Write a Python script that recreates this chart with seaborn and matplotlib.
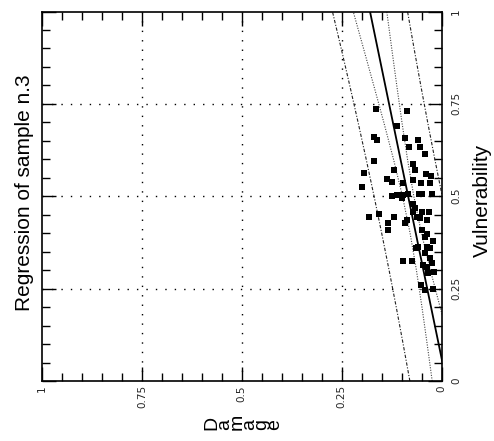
import numpy as np
import pandas as pd
import matplotlib
matplotlib.use("Agg")
import matplotlib.pyplot as plt
from matplotlib.ticker import MultipleLocator
import seaborn as sns

# ---------------- data ----------------
damage = [
    0.165, 0.087, 0.112, 0.168, 0.161, 0.091, 0.060, 0.081, 0.054, 0.041,
    0.169, 0.072, 0.193, 0.118, 0.066, 0.039, 0.026, 0.137, 0.125, 0.096,
    0.071, 0.051, 0.029, 0.200, 0.125, 0.112, 0.096, 0.083, 0.056, 0.048,
    0.025, 0.098, 0.071, 0.066, 0.048, 0.031, 0.071, 0.181, 0.156, 0.118,
    0.062, 0.054, 0.087, 0.091, 0.133, 0.037, 0.133, 0.048, 0.037, 0.041,
    0.021, 0.065, 0.058, 0.037, 0.029, 0.041, 0.096, 0.075, 0.029, 0.046,
    0.025, 0.037, 0.018, 0.033, 0.051, 0.021, 0.041]
vulnerability = [
    0.737, 0.730, 0.689, 0.659, 0.651, 0.658, 0.651, 0.633, 0.633, 0.615,
    0.595, 0.586, 0.563, 0.570, 0.570, 0.561, 0.554, 0.548, 0.539, 0.537,
    0.543, 0.537, 0.537, 0.524, 0.500, 0.503, 0.503, 0.507, 0.507, 0.505,
    0.505, 0.494, 0.478, 0.467, 0.458, 0.458, 0.458, 0.444, 0.451, 0.444,
    0.444, 0.440, 0.435, 0.428, 0.428, 0.435, 0.408, 0.410, 0.399, 0.390,
    0.378, 0.359, 0.363, 0.363, 0.359, 0.347, 0.324, 0.324, 0.332, 0.314,
    0.318, 0.309, 0.294, 0.291, 0.259, 0.249, 0.246]

# regression line and bands, sampled along vulnerability
v_grid = [0.0, 0.1, 0.2, 0.3, 0.4, 0.5, 0.6, 0.7, 0.8, 0.9, 1.0]
reg_line = [-0.012, 0.0071, 0.0262, 0.0453, 0.0644, 0.0835, 0.1026, 0.1217, 0.1408, 0.1599, 0.179]
inner_upper = [0.0233, 0.0359, 0.0489, 0.0628, 0.0786, 0.0977, 0.1201, 0.1444, 0.1696, 0.1952, 0.2210]
inner_lower = [-0.0473, -0.0217, 0.0035, 0.0278, 0.0502, 0.0693, 0.0851, 0.0990, 0.1120, 0.1246, 0.1370]
outer_upper = [0.0792, 0.0960, 0.1133, 0.1312, 0.1497, 0.1688, 0.1885, 0.2088, 0.2297, 0.2511, 0.2730]
outer_lower = [-0.1032, -0.0818, -0.0609, -0.0406, -0.0209, -0.0018, 0.0167, 0.0346, 0.0519, 0.0687, 0.0850]

x_ticks = [1.0, 0.75, 0.5, 0.25, 0.0]
x_ticklabels = ["1", "0.75", "0.5", "0.25", "0"]
y_ticks = [0.0, 0.25, 0.5, 0.75, 1.0]
y_ticklabels = ["0", "0.25", "0.5", "0.75", "1"]

title_text = "Regression of sample n.3"
ylabel_text = "Vulnerability"
xlabel_text = "Damage"

# ---------------- figure ----------------
sns.set_theme(style="ticks")
plt.rcParams["font.family"] = ["Liberation Sans", "DejaVu Sans"]

W, H = 494, 441
fig = plt.figure(figsize=(W / 100, H / 100), dpi=100)
ax = fig.add_axes([42 / W, 1 - 381 / H, (441.5 - 42) / W, (381 - 11.5) / H])

pts = pd.DataFrame({"Damage": damage, "Vulnerability": vulnerability})
sns.scatterplot(data=pts, x="Damage", y="Vulnerability", ax=ax, marker="s",
                s=13, color="black", linewidth=0, zorder=5)

lines = pd.DataFrame({"v": v_grid, "reg": reg_line, "iu": inner_upper,
                      "il": inner_lower, "ou": outer_upper, "ol": outer_lower})
sns.lineplot(data=lines, x="reg", y="v", sort=False, estimator=None, ax=ax,
             color="black", lw=1.3)
for col in ["iu", "il"]:
    sns.lineplot(data=lines, x=col, y="v", sort=False, estimator=None, ax=ax,
                 color="#444444", lw=0.8, linestyle=(0, (1, 1.3)))
for col in ["ou", "ol"]:
    sns.lineplot(data=lines, x=col, y="v", sort=False, estimator=None, ax=ax,
                 color="#222222", lw=0.8, linestyle=(0, (3, 1.5, 1, 1.5)))

ax.set_xlim(1.0, 0.0)
ax.set_ylim(0.0, 1.0)
ax.set_xlabel("")
ax.set_ylabel("")

# grid
for g in [0.25, 0.5, 0.75]:
    ax.axvline(g, color="black", lw=1.0, linestyle=(0, (1.0, 5.8)), zorder=1)
    ax.axhline(g, color="black", lw=1.0, linestyle=(0, (1.0, 5.8)), zorder=1)

# ticks
ax.yaxis.tick_right()
ax.set_xticks(x_ticks, labels=x_ticklabels)
ax.set_yticks(y_ticks, labels=y_ticklabels)
ax.xaxis.set_minor_locator(MultipleLocator(0.05))
ax.yaxis.set_minor_locator(MultipleLocator(0.05))
ax.tick_params(axis="both", which="both", direction="in", top=True, bottom=True,
               left=True, right=True, labelleft=False, labelright=True,
               labeltop=False, labelbottom=True, color="black", width=1.0)
ax.tick_params(axis="both", which="major", length=10, labelsize=7.5)
ax.tick_params(axis="both", which="minor", length=6)
ax.tick_params(axis="x", which="major", pad=3)
ax.tick_params(axis="y", which="major", pad=7)
for lbl in ax.get_xticklabels():
    lbl.set_rotation(90)
    lbl.set_family("DejaVu Sans")
for lbl in ax.get_yticklabels():
    lbl.set_rotation(90)
    lbl.set_va("center")
    lbl.set_family("DejaVu Sans")

for sp in ax.spines.values():
    sp.set_visible(True)
    sp.set_color("black")
    sp.set_linewidth(1.2)

# texts
fig.text(24 / W, 1 - 192.5 / H, title_text, rotation=90, ha="center",
         va="center", fontsize=15, color="black")
fig.text(482 / W, 1 - 200 / H, ylabel_text, rotation=90, ha="center",
         va="center", fontsize=15, color="black")
# axis title "Damage": letters stacked one per line, the block turned on its
# side, so each letter lies on its side and they run from left to right
fig.text(243 / W, 1 - 430 / H, "\n".join(xlabel_text), rotation=90,
         ha="center", va="bottom", multialignment="left", linespacing=0.65,
         fontsize=14, color="black")

fig.savefig("out.png", dpi=100)
